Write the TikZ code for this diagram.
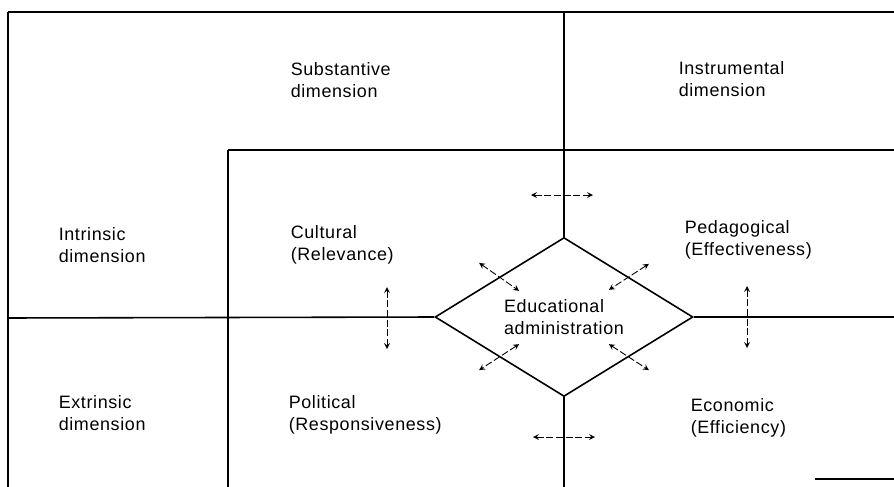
\documentclass[tikz,border=0pt]{standalone}
\usepackage{fontspec}
\setmainfont{Liberation Sans}[LetterSpace=3.5]
\usetikzlibrary{arrows,calc,shapes.geometric}
\tikzset{
	dimtext/.style={anchor=base west, align=left, inner sep=0pt,
			font=\fontsize{10.2}{12.5}\selectfont},
	twoway/.style={<->, >=stealth, line width=0.5pt, dash pattern=on 4pt off 1.5pt}
}

\begin{document}
\begin{tikzpicture}[x=0.02cm, y=-0.02cm, line width=0.9pt]
		\useasboundingbox (0,0) rectangle (894,487);

		% Frame corners and line ends
		\coordinate (topleft) at (8,12);
		\coordinate (topright) at (894,12);
		\coordinate (bottomleft) at (8,487);
		\coordinate (innertop) at (228,150);
		\coordinate (innerright) at (894,150);
		\coordinate (innerbottom) at (228,487);
		\coordinate (midleft) at (8,318);
		\coordinate (midright) at (894,317);
		\coordinate (stemtop) at (562,12);
		\coordinate (stembottom) at (564,487);
		\coordinate (cornerleft) at (815,479);
		\coordinate (cornerright) at (894,479);

		% Central diamond
		\node[draw, diamond, aspect=1.6, minimum width=5.16cm, minimum height=3.18cm,
			inner sep=0pt, align=left, font=\fontsize{10.2}{12.5}\selectfont]
			(admin) at (564,317) {Educational\\administration};

		% Outer frame
		\draw (topleft) -- (topright);
		\draw (topleft) -- (bottomleft);

		% Inner frame
		\draw (innertop) -- (innerright);
		\draw (innertop) -- (innerbottom);

		% Axes through the diamond
		\draw (midleft) -- (admin.west);
		\draw (admin.east) -- (midright);
		\draw (admin.north) -- (admin.north |- stemtop);
		\draw (admin.south) -- (admin.south |- stembottom);
		\draw (cornerleft) -- (cornerright);

		% Crossing arrows on the axes
		\coordinate (upcross) at (562,195);
		\coordinate (downcross) at (564,437);
		\coordinate (leftcross) at (387,318);
		\coordinate (rightcross) at (747,317);
		\draw[twoway] ([shift={(-31,0)}]upcross) -- ([shift={(31,0)}]upcross);
		\draw[twoway] ([shift={(-31,0)}]downcross) -- ([shift={(31,0)}]downcross);
		\draw[twoway] ([shift={(0,-31)}]leftcross) -- ([shift={(0,31)}]leftcross);
		\draw[twoway] ([shift={(0,-31)}]rightcross) -- ([shift={(0,31)}]rightcross);

		% Arrows across the diamond sides
		\draw[twoway] ([shift={(-20,-14)}]admin.north west) -- ([shift={(20,14)}]admin.north west);
		\draw[twoway] ([shift={(20,-13)}]admin.north east) -- ([shift={(-20,13)}]admin.north east);
		\draw[twoway] ([shift={(20,-13)}]admin.south west) -- ([shift={(-20,13)}]admin.south west);
		\draw[twoway] ([shift={(-20,-13)}]admin.south east) -- ([shift={(20,13)}]admin.south east);

		% Dimension labels (placed on the baseline of their last line)
		\node[dimtext] (substantive) at (290,97) {Substantive\\dimension};
		\node[dimtext] (instrumental) at (678,96) {Instrumental\\dimension};
		\node[dimtext] (intrinsic) at (58,262) {Intrinsic\\dimension};
		\node[dimtext] (cultural) at (290,260) {Cultural\\(Relevance)};
		\node[dimtext] (pedagogical) at (684,255) {Pedagogical\\(Effectiveness)};
		\node[dimtext] (extrinsic) at (58,430) {Extrinsic\\dimension};
		\node[dimtext] (political) at (288,430) {Political\\(Responsiveness)};
		\node[dimtext] (economic) at (690,433) {Economic\\(Efficiency)};
	\end{tikzpicture}
\end{document}
